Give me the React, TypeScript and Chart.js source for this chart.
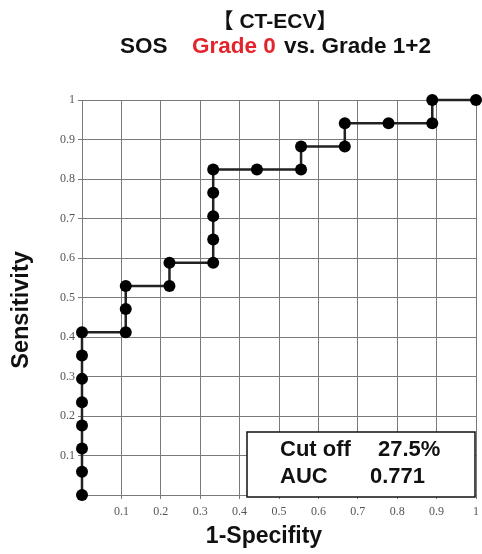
import React, { useEffect, useRef } from "react";
import { Chart, registerables } from "chart.js";

Chart.register(...registerables);

// 1-Specificity (FPR) and Sensitivity (TPR) points of the ROC curve
const fpr = [
  0, 0, 0, 0, 0, 0, 0, 0,
  0.111, 0.111, 0.111,
  0.222, 0.222,
  0.333, 0.333, 0.333, 0.333, 0.333,
  0.444,
  0.556, 0.556,
  0.667, 0.667,
  0.778,
  0.889, 0.889,
  1,
];
const tpr = [
  0, 0.059, 0.118, 0.176, 0.235, 0.294, 0.353, 0.412,
  0.412, 0.471, 0.529,
  0.529, 0.588,
  0.588, 0.647, 0.706, 0.765, 0.824,
  0.824,
  0.824, 0.882,
  0.882, 0.941,
  0.941,
  0.941, 1,
  1,
];
const titleLine1 = "【 CT-ECV】";
const titleParts = ["SOS", "Grade 0", "vs. Grade 1+2"];
const xTitle = "1-Specifity";
const yTitle = "Sensitivity";
const boxLabels = ["Cut off", "AUC"];
const boxValues = ["27.5%", "0.771"];

const SANS = '"Liberation Sans", Arial, "Noto Sans CJK JP", sans-serif';
const SERIF = '"Liberation Serif", "DejaVu Serif", serif';

const textPlugin = {
  id: "textPlugin",
  afterDraw(chart: any) {
    const { ctx } = chart;
    ctx.save();
    ctx.fillStyle = "#111";
    ctx.textBaseline = "middle";
    // title
    ctx.font = `bold 21px ${SANS}`;
    ctx.textAlign = "center";
    ctx.fillText(titleLine1, 275, 22);
    ctx.font = `bold 22.5px ${SANS}`;
    ctx.textAlign = "left";
    ctx.fillText(titleParts[0], 120, 47);
    ctx.fillStyle = "#e3242b";
    ctx.fillText(titleParts[1], 192, 47);
    ctx.fillStyle = "#111";
    ctx.fillText(titleParts[2], 284, 47);
    // axis titles
    ctx.font = `bold 23px ${SANS}`;
    ctx.textAlign = "center";
    ctx.fillText(xTitle, 264, 537);
    ctx.save();
    ctx.font = `bold 23.5px ${SANS}`;
    ctx.translate(22, 310);
    ctx.rotate(-Math.PI / 2);
    ctx.fillText(yTitle, 0, 0);
    ctx.restore();
    // box
    const bx = 247, by = 432, bw = 228, bh = 65;
    ctx.fillStyle = "#fff";
    ctx.fillRect(bx, by, bw, bh);
    ctx.strokeStyle = "#111";
    ctx.lineWidth = 1.5;
    ctx.strokeRect(bx, by, bw, bh);
    ctx.fillStyle = "#111";
    ctx.font = `bold 22px ${SANS}`;
    ctx.textAlign = "left";
    ctx.fillText(boxLabels[0], 280, 450);
    ctx.fillText(boxValues[0], 378, 450);
    ctx.fillText(boxLabels[1], 280, 477);
    ctx.fillText(boxValues[1], 370, 477);
    ctx.restore();
  },
};

export default function App() {
  const ref = useRef<HTMLCanvasElement | null>(null);
  useEffect(() => {
    document.body.style.margin = "0";
    const data = fpr.map((x, i) => ({ x, y: tpr[i] }));
    const tickCb = (v: any) => (v === 0 ? "" : String(Math.round(v * 10) / 10));
    const chart = new Chart(ref.current as HTMLCanvasElement, {
      type: "line",
      data: {
        datasets: [
          {
            data,
            borderColor: "#222",
            borderWidth: 2.5,
            pointRadius: 6,
            pointBackgroundColor: "#000",
            pointBorderColor: "#000",
            pointBorderWidth: 0,
            clip: false as any,
            tension: 0,
          },
        ],
      },
      options: {
        animation: false,
        responsive: false,
        maintainAspectRatio: false,
        layout: { padding: { left: 0, top: 100, right: 6, bottom: 0 } },
        plugins: { legend: { display: false }, tooltip: { enabled: false }, title: { display: false } },
        scales: {
          x: {
            type: "linear",
            min: 0,
            max: 1,
            afterFit: (s: any) => {
              s.height = 59;
              s.paddingLeft = 0;
              s.paddingRight = 0;
            },
            grid: { color: "#7a7a7a", lineWidth: 1, tickLength: 4, tickColor: "#7a7a7a" },
            border: { color: "#7a7a7a" },
            ticks: {
              stepSize: 0.1,
              callback: tickCb,
              color: "#555",
              padding: 6,
              maxRotation: 0,
              font: { family: SERIF, size: 12 },
            },
          },
          y: {
            type: "linear",
            min: 0,
            max: 1,
            afterFit: (s: any) => {
              s.width = 82;
              s.paddingTop = 0;
              s.paddingBottom = 0;
            },
            grid: { color: "#7a7a7a", lineWidth: 1, tickLength: 4, tickColor: "#7a7a7a" },
            border: { color: "#7a7a7a" },
            ticks: {
              stepSize: 0.1,
              callback: tickCb,
              color: "#555",
              padding: 3,
              font: { family: SERIF, size: 12 },
            },
          },
        },
      },
      plugins: [textPlugin],
    });
    return () => chart.destroy();
  }, []);
  return (
    <div style={{ width: 482, height: 554, position: "relative" }}>
      <canvas ref={ref} width={482} height={554} style={{ display: "block" }} />
    </div>
  );
}
